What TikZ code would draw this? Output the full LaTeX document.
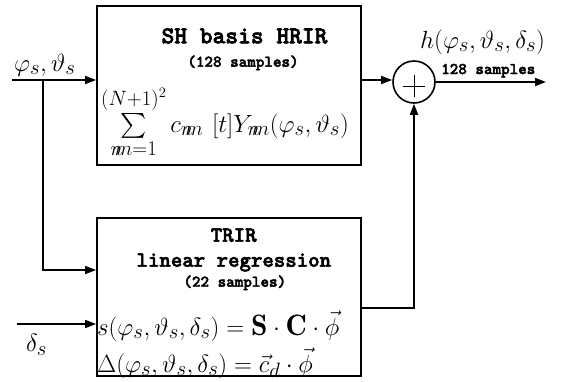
\documentclass[tikz,border=0pt]{standalone}
\usepackage{fontspec}
\usepackage{amsmath}
\usetikzlibrary{arrows.meta}
\newfontfamily\monob{lmmonolt10-bold.otf}[FakeBold=2.5]
\newcommand{\mf}{\fontsize{29.5}{33}\selectfont}
\begin{document}
\begin{tikzpicture}[x=1pt,y=-1pt,
  blk/.style={draw, line width=1.8pt, rectangle, inner sep=0pt},
  arr/.style={line width=1.6pt, -{Triangle[length=11pt,width=8pt]}},
  lbl/.style={inner sep=0pt, anchor=base},
  bigtitle/.style={font=\monob\fontsize{24.3}{26}\selectfont},
  titlefont/.style={font=\monob\fontsize{21.8}{24}\selectfont},
  smallfont/.style={font=\monob\fontsize{16.3}{18}\selectfont},
  mathfont/.style={font=\mf}
  ]
\useasboundingbox (0,0) rectangle (565,381);

% blocks
\node[blk, minimum width=264pt, minimum height=159pt] (sh) at (229,85.5) {};
\node[blk, minimum width=264pt, minimum height=158pt] (tr) at (229,297) {};
\node[draw, circle, line width=1.6pt, minimum size=42pt, inner sep=0pt] (sum) at (414,82) {};
\draw[line width=0.7pt] (sum.center) ++(-11,4) -- ++(22,0);
\draw[line width=0.7pt] (sum.center) ++(0,-7) -- ++(0,22);

% texts in SH block
\node[lbl, bigtitle] (shtitle) at (244.5,43.3) {SH basis HRIR};
\node[lbl, smallfont] (shsamp) at (243,66.7) {(128 samples)};
\node[lbl, mathfont, anchor=base west] (shform) at (101,132)
  {$\sum\limits_{n\mkern-7mu m=1}^{(N+1)^2} c_{n\mkern-7mu m}\ [t]Y_{n\mkern-7mu m}(\varphi_s,\vartheta_s)$};

% texts in TR block
\node[lbl, titlefont] (trtitle) at (233.7,241.7) {TRIR};
\node[lbl, titlefont] (trlin) at (233.8,266.7) {linear regression};
\node[lbl, smallfont] (trsamp) at (234.8,286.7) {(22 samples)};
\node[lbl, mathfont, anchor=base west] (trf1) at (97,335)
  {$s(\varphi_s,\vartheta_s,\delta_s) = \mathbf{S}\cdot\mathbf{C}\cdot\vec{\phi}$};
\node[lbl, mathfont, anchor=base west] (trf2) at (97,372)
  {$\Delta(\varphi_s,\vartheta_s,\delta_s) = \vec{c}_d\cdot\vec{\phi}$};

% outer labels
\node[lbl, mathfont, anchor=base west] (lphi) at (14,71) {$\varphi_s,\vartheta_s$};
\node[lbl, mathfont, anchor=base west] (ldelta) at (26,351.7) {$\delta_s$};
\node[lbl, mathfont, anchor=base west] (lh) at (420,48) {$h(\varphi_s,\vartheta_s,\delta_s)$};
\node[lbl, smallfont, anchor=base west] (lout) at (441,74) {128 samples};

% connectors
\coordinate (inA) at (12,80);
\coordinate (br) at (43,80);
\coordinate (brB) at (43,270);
\coordinate (inD) at (17,324);
\coordinate (out) at (546,82);
\coordinate (tk) at (414,308);
\draw[arr] (inA) -- (inA -| sh.west);
\draw[arr] (br) -- (brB) -- (brB -| tr.west);
\draw[arr] (inD) -- (inD -| tr.west);
\draw[arr] (sh.east |- inA) -- (sum.west |- inA);
\draw[arr] (sum.east) -- (out);
\draw[arr] (tk -| tr.east) -- (tk) -- (sum.south);
\end{tikzpicture}
\end{document}
